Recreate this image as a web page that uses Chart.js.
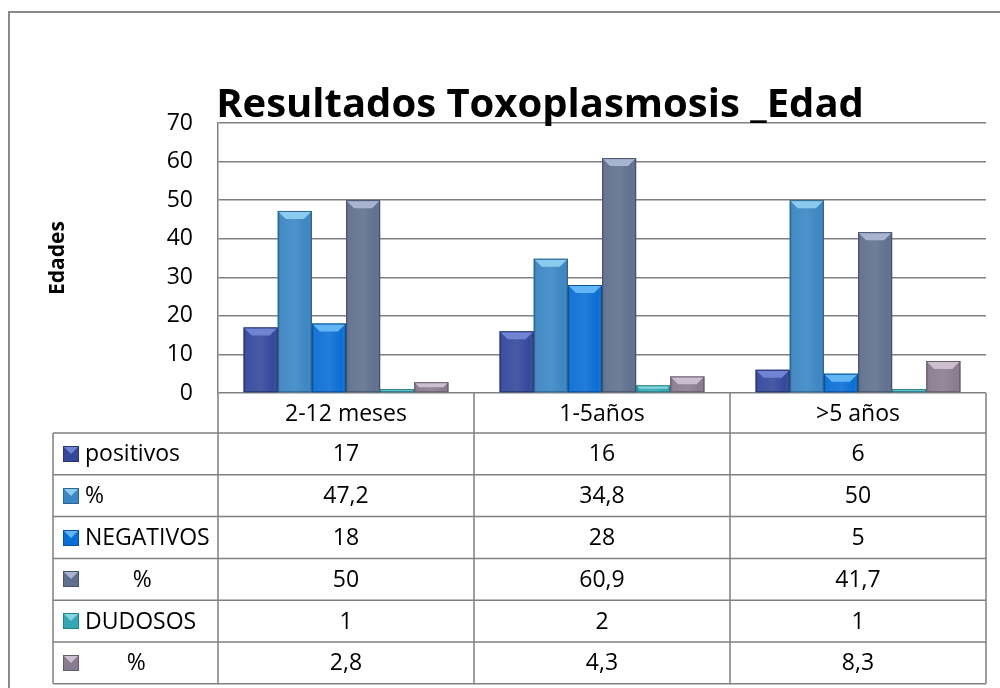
<!DOCTYPE html>
<html>
<head>
<meta charset="utf-8">
<script src="https://cdn.jsdelivr.net/npm/chart.js@4/dist/chart.umd.min.js"></script>
<style>
  html, body { margin: 0; padding: 0; background: #fff; }
  #wrap { width: 1000px; height: 688px; position: relative; }
</style>
</head>
<body>
<div id="wrap"><canvas id="c" width="1000" height="688"></canvas></div>
<script>
const chartTitle = 'Resultados Toxoplasmosis _Edad';
const yAxisTitle = 'Edades';
const categories = ['2-12 meses', '1-5años', '>5 años'];
const seriesLabels = ['positivos', '%', 'NEGATIVOS', '        %', 'DUDOSOS', '       %'];
const positivos = [17, 16, 6];
const pctPositivos = [47.2, 34.8, 50];
const negativos = [18, 28, 5];
const pctNegativos = [50, 60.9, 41.7];
const dudosos = [1, 2, 1];
const pctDudosos = [2.8, 4.3, 8.3];
const yTicks = [0, 10, 20, 30, 40, 50, 60, 70];

const seriesValues = [positivos, pctPositivos, negativos, pctNegativos, dudosos, pctDudosos];
const seriesColors = ['#34479b', '#3b86c3', '#0a6ed4', '#5f6f8e', '#35a7b3', '#8a7c90'];
const seriesLight  = ['#6f84d2', '#8ccaef', '#62b6f6', '#a7b5d0', '#82d5de', '#cbbfcf'];
const seriesDark   = ['#26356f', '#2b6591', '#08519c', '#46536b', '#277d86', '#675c6b'];

const GRID = '#808080';
const FONT = "'Open Sans', 'Noto Sans', sans-serif";

function fmt(v) { return String(v).replace('.', ','); }

const decorPlugin = {
  id: 'decor',
  beforeDraw(chart) {
    const ctx = chart.ctx;
    ctx.save();
    ctx.fillStyle = '#ffffff';
    ctx.fillRect(0, 0, chart.width, chart.height);
    ctx.strokeStyle = '#8a8a8a';
    ctx.lineWidth = 2;
    ctx.strokeRect(9, 12, 1100, 800);
    ctx.restore();
  },
  afterDatasetsDraw(chart) {
    const ctx = chart.ctx;
    ctx.save();
    chart.data.datasets.forEach((ds, di) => {
      const meta = chart.getDatasetMeta(di);
      meta.data.forEach((bar) => {
        const w = bar.width;
        const l = bar.x - w / 2, r = bar.x + w / 2;
        const top = Math.min(bar.y, bar.base), bot = Math.max(bar.y, bar.base);
        const h = bot - top;
        if (h <= 0) return;
        const g = ctx.createLinearGradient(l, 0, r, 0);
        g.addColorStop(0, 'rgba(0,0,0,0.18)');
        g.addColorStop(0.12, 'rgba(255,255,255,0.05)');
        g.addColorStop(0.5, 'rgba(255,255,255,0.10)');
        g.addColorStop(0.88, 'rgba(255,255,255,0.0)');
        g.addColorStop(1, 'rgba(0,0,0,0.25)');
        ctx.fillStyle = g;
        ctx.fillRect(l, top, w, h);
        const b = Math.min(8, h / 2);
        ctx.beginPath();
        ctx.moveTo(l, top);
        ctx.lineTo(r, top);
        ctx.lineTo(r - b, top + b);
        ctx.lineTo(l + b, top + b);
        ctx.closePath();
        ctx.fillStyle = seriesLight[di];
        ctx.fill();
        ctx.strokeStyle = seriesDark[di];
        ctx.lineWidth = 1;
        ctx.strokeRect(l + 0.5, top + 0.5, w - 1, h - 1);
      });
    });
    ctx.restore();
  },
  afterDraw(chart) {
    const ctx = chart.ctx;
    const area = chart.chartArea;
    const xs = chart.scales.x;
    const n = categories.length;
    const colW = (area.right - area.left) / n;
    const headerTop = area.bottom;
    const headerH = 40;
    const rowH = 41.8;
    const tableLeft = 53;
    const rowsTop = headerTop + headerH;
    const nRows = seriesLabels.length;
    const tableBottom = rowsTop + rowH * nRows;

    ctx.save();
    ctx.fillStyle = '#000';
    ctx.font = "bold 40px " + FONT;
    ctx.textAlign = 'center';
    ctx.textBaseline = 'alphabetic';
    ctx.fillText(chartTitle, 540, 117);

    ctx.strokeStyle = GRID;
    ctx.lineWidth = 1.5;
    ctx.beginPath();
    for (let i = 0; i <= n; i++) {
      const x = area.left + colW * i;
      ctx.moveTo(x, headerTop);
      ctx.lineTo(x, tableBottom);
    }
    ctx.moveTo(tableLeft, rowsTop);
    ctx.lineTo(tableLeft, tableBottom);
    for (let r = 0; r <= nRows; r++) {
      const y = rowsTop + rowH * r;
      ctx.moveTo(tableLeft, y);
      ctx.lineTo(area.right, y);
    }
    ctx.stroke();

    ctx.fillStyle = '#000';
    ctx.font = "23px " + FONT;
    ctx.textAlign = 'center';
    ctx.textBaseline = 'middle';
    categories.forEach((c, i) => {
      ctx.fillText(c, xs.getPixelForValue(i), headerTop + headerH / 2 + 1);
    });

    seriesLabels.forEach((lab, r) => {
      const cy = rowsTop + rowH * r + rowH / 2;
      const s = 16, kx = 63, ky = Math.round(cy - s / 2);
      ctx.fillStyle = seriesColors[r];
      ctx.fillRect(kx, ky, s, s);
      ctx.beginPath();
      ctx.moveTo(kx, ky);
      ctx.lineTo(kx + s, ky);
      ctx.lineTo(kx + s / 2, ky + s / 2);
      ctx.closePath();
      ctx.fillStyle = seriesLight[r];
      ctx.fill();
      ctx.strokeStyle = seriesDark[r];
      ctx.lineWidth = 1;
      ctx.strokeRect(kx + 0.5, ky + 0.5, s - 1, s - 1);
      ctx.fillStyle = '#000';
      ctx.textAlign = 'left';
      ctx.fillText(lab, 85, cy + 1);
      ctx.textAlign = 'center';
      seriesValues[r].forEach((v, i) => {
        ctx.fillText(fmt(v), xs.getPixelForValue(i), cy + 1);
      });
    });
    ctx.restore();
  }
};

const datasets = seriesLabels.map((lab, i) => ({
  label: lab.trim(),
  data: seriesValues[i],
  backgroundColor: seriesColors[i],
  borderWidth: 0,
  categoryPercentage: 0.8,
  barPercentage: 1.0
}));

new Chart(document.getElementById('c'), {
  type: 'bar',
  data: { labels: categories, datasets },
  options: {
    responsive: false,
    animation: false,
    events: [],
    layout: { padding: { left: 0, right: 14, top: 123, bottom: 295 } },
    plugins: {
      legend: { display: false },
      title: { display: false },
      tooltip: { enabled: false }
    },
    scales: {
      x: { display: false, grid: { display: false } },
      y: {
        min: yTicks[0],
        max: yTicks[yTicks.length - 1],
        afterFit(scale) {
          scale.width = 218;
          scale.paddingTop = 0;
          scale.paddingBottom = 0;
        },
        afterBuildTicks(scale) {
          scale.ticks = yTicks.map(v => ({ value: v }));
        },
        ticks: {
          color: '#000',
          padding: 25,
          font: { family: FONT, size: 23 }
        },
        grid: { color: GRID, lineWidth: 1.5, drawTicks: false },
        border: { display: true, color: GRID, width: 1.5 },
        title: {
          display: true,
          text: yAxisTitle,
          color: '#000',
          font: { family: FONT, size: 21, weight: 'bold' },
          padding: { top: 45, bottom: 0 }
        }
      }
    }
  },
  plugins: [decorPlugin]
});
</script>
</body>
</html>
